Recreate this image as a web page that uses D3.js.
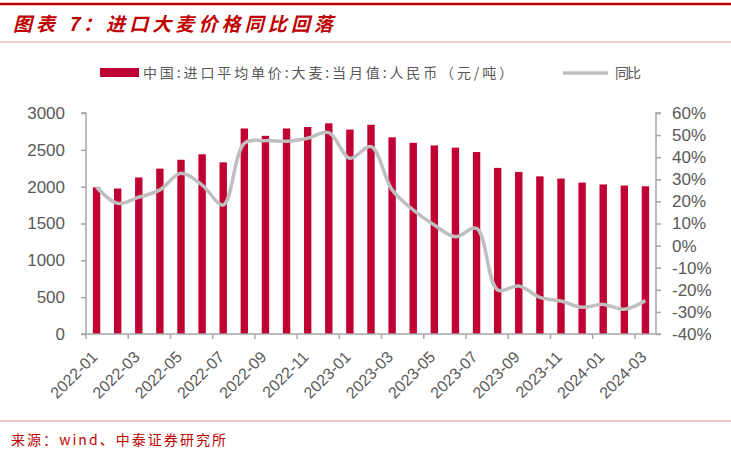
<!DOCTYPE html>
<html><head><meta charset="utf-8">
<script src="https://cdn.jsdelivr.net/npm/d3@7"></script>
<style>
html,body{margin:0;padding:0;background:#fff;}
svg{display:block;}
</style></head>
<body>
<svg id="chart" width="731" height="459"></svg>
<script>
const months = ["2022-01","2022-02","2022-03","2022-04","2022-05","2022-06","2022-07","2022-08","2022-09","2022-10","2022-11","2022-12",
  "2023-01","2023-02","2023-03","2023-04","2023-05","2023-06","2023-07","2023-08","2023-09","2023-10","2023-11","2023-12",
  "2024-01","2024-02","2024-03"];
const price = [1990,1975,2125,2245,2365,2440,2330,2790,2690,2790,2810,2860,2775,2840,2670,2595,2560,2530,2470,2255,2200,2140,2110,2055,2030,2015,2005];
const yoy = [26.4,19.1,21.9,25.2,32.7,27.4,18.4,46.3,47.5,47.2,48.6,51.1,39.5,44.8,25.2,16.1,9.3,4.0,7.8,-20.1,-18.3,-23.4,-25.1,-27.9,-26.6,-28.8,-24.9];
const leftTicks = [0,500,1000,1500,2000,2500,3000];
const rightTicks = [-40,-30,-20,-10,0,10,20,30,40,50,60];
const xTickLabels = ["2022-01","2022-03","2022-05","2022-07","2022-09","2022-11","2023-01","2023-03","2023-05","2023-07","2023-09","2023-11","2024-01","2024-03"];
const titleText = "图表 7：进口大麦价格同比回落";
const legendBar = "中国:进口平均单价:大麦:当月值:人民币（元/吨）";
const legendLine = "同比";
const sourceText = "来源：wind、中泰证券研究所";

(function(){
const svg = d3.select("#chart");
const W = 731, H = 459;
const pL = 86, pR = 656, pT = 113, pB = 334;
const axisColor = "#a6a6a6", textColor = "#595959";
const barColor = "#C00032", lineColor = "#bfbfbf", red = "#C00000";

// header
svg.append("line").attr("x1",0).attr("x2",W).attr("y1",4).attr("y2",4).attr("stroke",red).attr("stroke-width",2.5);
svg.append("text").attr("x",13).attr("y",31).text(titleText)
  .attr("font-family","'Noto Sans CJK SC'").attr("font-size",19).attr("font-style","italic").attr("font-weight","bold")
  .attr("fill",red).attr("textLength",320).attr("lengthAdjust","spacing");
svg.append("line").attr("x1",0).attr("x2",W).attr("y1",42).attr("y2",42).attr("stroke","#f2b8b8").attr("stroke-width",1.5);

// scales
const x = d3.scaleBand().domain(months).range([pL,pR]).paddingInner(0.65).paddingOuter(0.325);
const yL = d3.scaleLinear().domain([0,3000]).range([pB,pT]);
const yR = d3.scaleLinear().domain([-40,60]).range([pB,pT]);

// bars
svg.append("g").selectAll("rect").data(price).join("rect")
  .attr("x",(d,i)=>x(months[i])).attr("width",x.bandwidth())
  .attr("y",d=>yL(d)).attr("height",d=>yL(0)-yL(d)).attr("fill",barColor);

// left axis
const gl = svg.append("g").attr("transform",`translate(${pL},0)`)
  .call(d3.axisLeft(yL).tickValues(leftTicks).tickSize(5).tickPadding(16).tickFormat(d3.format("d")));
// right axis
const gr = svg.append("g").attr("transform",`translate(${pR},0)`)
  .call(d3.axisRight(yR).tickValues(rightTicks).tickSize(5).tickPadding(11).tickFormat(d=>d+"%"));
[gl,gr].forEach(g=>{
  g.select(".domain").attr("stroke",axisColor).attr("stroke-width",1.5).attr("d", g===gl ? `M-5,${pT}H0V${pB}H-5` : `M5,${pT}H0V${pB}H5`);
  g.selectAll(".tick line").attr("stroke",axisColor).attr("stroke-width",1.5);
  g.selectAll(".tick text").attr("fill",textColor).attr("font-family","'Liberation Sans',Arial,sans-serif").attr("font-size",17);
});

// bottom axis
const gb = svg.append("g");
gb.append("line").attr("x1",pL).attr("x2",pR).attr("y1",pB).attr("y2",pB).attr("stroke",axisColor).attr("stroke-width",1.5);
const tickIdx = d3.range(0,months.length,2);
gb.selectAll("line.t").data(tickIdx).join("line").attr("class","t")
  .attr("x1",i=>x(months[i])-x.step()*x.paddingInner()/2).attr("x2",i=>x(months[i])-x.step()*x.paddingInner()/2)
  .attr("y1",pB).attr("y2",pB+5).attr("stroke",axisColor).attr("stroke-width",1.5);
gb.selectAll("text").data(xTickLabels).join("text")
  .attr("transform",d=>`translate(${x(d)+x.bandwidth()/2+2},${358}) rotate(-45)`)
  .attr("text-anchor","end").attr("fill",textColor)
  .attr("font-family","'Liberation Sans',Arial,sans-serif").attr("font-size",16).text(d=>d);

// line
const line = d3.line().x((d,i)=>x(months[i])+x.bandwidth()/2).y(d=>yR(d)).curve(d3.curveCatmullRom.alpha(0.5));
svg.append("path").datum(yoy).attr("d",line).attr("fill","none").attr("stroke",lineColor).attr("stroke-width",3.5).attr("stroke-linejoin","round");

// legend
svg.append("rect").attr("x",100).attr("y",68).attr("width",39).attr("height",9).attr("fill",barColor);
svg.append("text").attr("x",143).attr("y",78).text(legendBar)
  .attr("font-family","'Noto Sans CJK SC'").attr("font-size",14).attr("fill",textColor)
  .attr("textLength",370).attr("lengthAdjust","spacing");
svg.append("line").attr("x1",563).attr("x2",608).attr("y1",73).attr("y2",73).attr("stroke",lineColor).attr("stroke-width",3.5);
svg.append("text").attr("x",615).attr("y",78).text(legendLine)
  .attr("font-family","'Noto Sans CJK SC'").attr("font-size",14).attr("fill",textColor)
  .attr("textLength",26).attr("lengthAdjust","spacing");

// footer
svg.append("line").attr("x1",0).attr("x2",W).attr("y1",421).attr("y2",421).attr("stroke","#f2b0b0").attr("stroke-width",1.5);
svg.append("text").attr("x",11).attr("y",445).text(sourceText)
  .attr("font-family","'Noto Sans CJK SC'").attr("font-size",14).attr("fill",red)
  .attr("textLength",215).attr("lengthAdjust","spacing");
})();
</script>
</body></html>
